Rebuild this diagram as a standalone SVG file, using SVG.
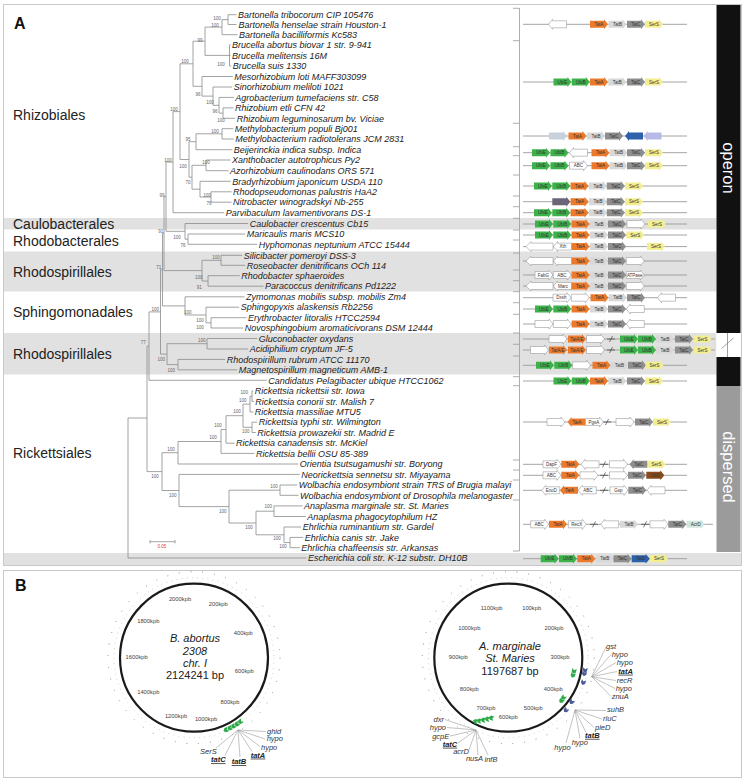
<svg xmlns="http://www.w3.org/2000/svg" xmlns:xlink="http://www.w3.org/1999/xlink" width="745" height="781" viewBox="0 0 745 781">
<style>
.sp{font:italic 9px "Liberation Sans",Arial,sans-serif;fill:#222}
.ord{font:14px "Liberation Sans",Arial,sans-serif;fill:#222}
.bs{font:4.5px "Liberation Sans",Arial,sans-serif;fill:#666;text-anchor:middle}
.tr{stroke:#8c8c8c;stroke-width:0.8;fill:none}
.gl{stroke:#9a9a9a;stroke-width:0.9;fill:none}
.gt{font:4.5px "Liberation Sans",Arial,sans-serif;fill:#333;text-anchor:middle}
.wh{fill:#fff;stroke:#9a9a9a;stroke-width:0.6}
.a{fill:#ec7a2c}.b{fill:#d8d8d8}.c{fill:#8e8e8e}.s{fill:#f3ee90}.g{fill:#3db24a}
.lb{fill:#c6d1dd}.bl{fill:#2d62aa}.lv{fill:#b9b9e8}.pu{fill:#6c6478}.br{fill:#8b4a1c}.tl{fill:#cfe6df}
.brk{stroke:#444;fill:none}
.band{fill:#e1e1e1}
.frame{fill:none;stroke:#c8c8c8;stroke-width:1}
.tk{font:5.8px "Liberation Sans",Arial,sans-serif;fill:#444;text-anchor:middle}
.gn{font:italic 7.5px "Liberation Sans",Arial,sans-serif;fill:#333}
.gnb{font:italic bold 7.5px "Liberation Sans",Arial,sans-serif;fill:#222;text-decoration:underline}
.fan{stroke:#9a9a9a;stroke-width:0.6;fill:none}
.ctr{font:italic 11px "Liberation Sans",Arial,sans-serif;fill:#222;text-anchor:middle}
.ctn{font:11px "Liberation Sans",Arial,sans-serif;fill:#222;text-anchor:middle}
.big{font:bold 16px "Liberation Sans",Arial,sans-serif;fill:#111}
.side{font:16.5px "Liberation Sans",Arial,sans-serif;fill:#fff;text-anchor:middle}
</style>
<defs>
<path id="R" d="M0,-3.5H14V-5L18,0L14,5V3.5H0Z"/>
<path id="L" d="M18,-3.5H4V-5L0,0L4,5V3.5H18Z"/>
<path id="LW" d="M27,-3.5H5V-5L0,0L5,5V3.5H27Z"/>
<path id="chev" d="M-2.5,-2.2H1L2.8,0L1,2.2H-2.5L-0.8,0Z"/>
</defs>
<rect width="745" height="781" fill="#fff"/>

<g id="bands">
<rect class="band" x="4" y="218" width="712.5" height="11.5"/>
<rect class="band" x="4" y="251.5" width="712.5" height="40"/>
<rect class="band" x="4" y="333" width="712.5" height="41.5"/>
<rect class="band" x="4" y="553" width="737" height="12"/>
</g>
<g id="frames">
<rect class="frame" x="3.5" y="4.5" width="738" height="561"/>
<rect class="frame" x="3.5" y="570.5" width="738" height="207"/>
</g>

<text class="big" x="14" y="28.5">A</text>
<text class="big" x="15" y="590.5">B</text>

<g id="orders">
<text class="ord" x="13" y="120">Rhizobiales</text>
<text class="ord" x="13" y="228.8">Caulobacterales</text>
<text class="ord" x="13" y="245.7">Rhodobacterales</text>
<text class="ord" x="13" y="276.7">Rhodospirillales</text>
<text class="ord" x="13" y="316.7">Sphingomonadales</text>
<text class="ord" x="13" y="359">Rhodospirillales</text>
<text class="ord" x="13" y="458.3">Rickettsiales</text>
</g>

<g id="sidebar">
<rect x="716.5" y="5" width="24" height="328" fill="#111"/>
<rect x="716.5" y="333" width="24" height="24" fill="#fff"/>
<line x1="727.5" y1="333" x2="727.5" y2="357" stroke="#888" stroke-width="0.8"/>
<line x1="721.5" y1="348.5" x2="733.5" y2="338" stroke="#888" stroke-width="0.8"/>
<rect x="716.5" y="357" width="24" height="29" fill="#111"/>
<rect x="716.5" y="386" width="24" height="166" fill="#9b9b9b"/>
<text class="side" transform="translate(723.3,168) rotate(90)">operon</text>
<text class="side" transform="translate(723.3,467) rotate(90)">dispersed</text>
</g>

<g id="tree" class="tr">
<path d="M236.5,14.7H228V24.5H236.5"/>
<path d="M228,19.6H222V34.7H237.5"/>
<path d="M230.5,44.8H229.5V66H231.2M229.5,55.3H230.5"/>
<path d="M222,27.1H205V55.4H229.5"/>
<path d="M233.5,107.9H223V118.3H235.2"/>
<path d="M233.8,97.4H219V113.1H223"/>
<path d="M232.2,87H213V105.3H219"/>
<path d="M232.8,76.5H202V96.1H213"/>
<path d="M205,41.2H193V86.3H202"/>
<path d="M233.2,128.7H222V139H233.8"/>
<path d="M222,133.8H196V149.7H232.2"/>
<path d="M230.5,160H206V170.7H228.5"/>
<path d="M231.5,191.8H211V202.2H231.5"/>
<path d="M230.8,181.3H200V197H211"/>
<path d="M206,165.3H192V189.2H200"/>
<path d="M196,141.7H189V177.2H192"/>
<path d="M193,63.8H180V159.5H189"/>
<path d="M180,111.6H173V212.7H224.2"/>
<path d="M245.2,234H188V244.3H257.2"/>
<path d="M248.2,223.5H185V239.2H188"/>
<path d="M173,162.1H166V231.3H185"/>
<path d="M242.2,255.3H221V265.3H245.2"/>
<path d="M239.8,275.7H208V286.2H263.5"/>
<path d="M221,260.3H202V281H208"/>
<path d="M166,196.7H164V270.6H202"/>
<path d="M246.5,317.7H211V328H243.2"/>
<path d="M239.2,307.2H206V322.8H211"/>
<path d="M244.5,296.8H185V315H206"/>
<path d="M164,233.6H162.5V305.9H185"/>
<path d="M257.2,338.5H207V349H248.2"/>
<path d="M225.2,359.4H178V369.8H237.2"/>
<path d="M207,343.7H167V364.6H178"/>
<path d="M162.5,269.7H160.5V354.1H167"/>
<path d="M160.5,311.9H149V380.3H266.8"/>
<path d="M149,346.1H147V471.6H162"/>
<path d="M147,418H128V558H306.5"/>
<path d="M253.2,391H252V401.5H253.8"/>
<path d="M252,396.2H250V412H253.2"/>
<path d="M257.2,422.2H252V432.5H255.8"/>
<path d="M250,404.1H243V427.3H252"/>
<path d="M243,415.7H226V443.2H234.5"/>
<path d="M226,429.5H221V453.4H254.5"/>
<path d="M221,441.5H178V464H298.2"/>
<path d="M297.2,485H280V495.3H298.5"/>
<path d="M302.5,505.9H274V516.5H305.8"/>
<path d="M303.2,537.4H290V547.7H299.8"/>
<path d="M301.2,527H284V542.6H290"/>
<path d="M274,511.2H256V534.8H284"/>
<path d="M280,490.2H229V523H256"/>
<path d="M299.8,474.4H179V506.6H229"/>
<path d="M178,452.7H162V490.5H179"/>
<path d="M150,541.7H175M150,540V543.4M175,540V543.4"/>
</g>
<text x="162" y="548" style="font:4.5px 'Liberation Sans',sans-serif;fill:#e04040;text-anchor:middle">0.05</text>

<g id="bootstrap">
<text class="bs" x="217" y="19.5">100</text><text class="bs" x="215" y="27">100</text>
<text class="bs" x="200" y="41.5">99</text><text class="bs" x="185" y="63">100</text>
<text class="bs" x="221" y="65.5">100</text><text class="bs" x="198" y="95.5">96</text>
<text class="bs" x="210" y="104">100</text><text class="bs" x="215" y="113">96</text>
<text class="bs" x="221" y="121.5">100</text><text class="bs" x="174" y="111">100</text>
<text class="bs" x="215" y="133">100</text><text class="bs" x="188" y="141">95</text>
<text class="bs" x="168" y="162">100</text><text class="bs" x="183" y="168">100</text>
<text class="bs" x="206" y="164">100</text><text class="bs" x="188" y="184">70</text>
<text class="bs" x="207" y="197">100</text><text class="bs" x="209" y="204.5">76</text>
<text class="bs" x="162" y="196.5">99</text><text class="bs" x="160.7" y="232.5">91</text>
<text class="bs" x="177" y="239">100</text><text class="bs" x="183" y="247">76</text>
<text class="bs" x="216" y="258.7">100</text><text class="bs" x="158.7" y="268.5">71</text>
<text class="bs" x="198.7" y="278.5">100</text><text class="bs" x="199.3" y="288.5">91</text>
<text class="bs" x="155.3" y="310.7">100</text><text class="bs" x="187.7" y="313.7">100</text>
<text class="bs" x="200" y="321.7">100</text><text class="bs" x="200" y="329.3">100</text>
<text class="bs" x="143.3" y="344">77</text><text class="bs" x="201.7" y="342.3">100</text>
<text class="bs" x="161.3" y="361">100</text><text class="bs" x="171.3" y="371.7">100</text>
<text class="bs" x="244.3" y="393.7">100</text><text class="bs" x="242.7" y="402">100</text>
<text class="bs" x="237" y="412.7">100</text><text class="bs" x="245.7" y="433.3">100</text>
<text class="bs" x="218" y="427">100</text><text class="bs" x="213" y="439">100</text>
<text class="bs" x="171" y="450.7">100</text><text class="bs" x="155" y="477.7">100</text>
<text class="bs" x="172.7" y="496.7">100</text><text class="bs" x="274" y="488">100</text>
<text class="bs" x="222.7" y="512.7">100</text><text class="bs" x="268.3" y="508.3">100</text>
<text class="bs" x="249" y="528.7">100</text><text class="bs" x="277" y="540.3">100</text>
<text class="bs" x="283" y="547.7">100</text>
</g>

<g id="species">
<text class="sp" x="238" y="17.9">Bartonella tribocorum CIP 105476</text>
<text class="sp" x="238.5" y="27.7">Bartonella henselae strain Houston-1</text>
<text class="sp" x="239" y="37.9">Bartonella bacilliformis Kc583</text>
<text class="sp" x="232" y="48">Brucella abortus biovar 1 str. 9-941</text>
<text class="sp" x="232" y="58.5">Brucella melitensis 16M</text>
<text class="sp" x="232.7" y="69.2">Brucella suis 1330</text>
<text class="sp" x="234.3" y="79.7">Mesorhizobium loti MAFF303099</text>
<text class="sp" x="233.7" y="90.2">Sinorhizobium meliloti 1021</text>
<text class="sp" x="235.3" y="100.6">Agrobacterium tumefaciens str. C58</text>
<text class="sp" x="235" y="111.1">Rhizobium etli CFN 42</text>
<text class="sp" x="236.7" y="121.5">Rhizobium leguminosarum bv. Viciae</text>
<text class="sp" x="234.7" y="131.9">Methylobacterium populi Bj001</text>
<text class="sp" x="235.3" y="142.2">Methylobacterium radiotolerans JCM 2831</text>
<text class="sp" x="233.7" y="152.9">Beijerinckia indica subsp. Indica</text>
<text class="sp" x="232" y="163.2">Xanthobacter autotrophicus Py2</text>
<text class="sp" x="230" y="173.9">Azorhizobium caulinodans ORS 571</text>
<text class="sp" x="232.3" y="184.5">Bradyrhizobium japonicum USDA 110</text>
<text class="sp" x="233" y="195">Rhodopseudomonas palustris HaA2</text>
<text class="sp" x="233" y="205.4">Nitrobacter winogradskyi Nb-255</text>
<text class="sp" x="225.7" y="215.9">Parvibaculum lavamentivorans DS-1</text>
<text class="sp" x="249.7" y="226.7">Caulobacter crescentus Cb15</text>
<text class="sp" x="246.7" y="237.2">Maricaulis maris MCS10</text>
<text class="sp" x="258.7" y="247.5">Hyphomonas neptunium ATCC 15444</text>
<text class="sp" x="243.7" y="258.5">Silicibacter pomeroyi DSS-3</text>
<text class="sp" x="246.7" y="268.5">Roseobacter denitrificans OCh 114</text>
<text class="sp" x="241.3" y="278.9">Rhodobacter sphaeroides</text>
<text class="sp" x="265" y="289.4">Paracoccus denitrificans Pd1222</text>
<text class="sp" x="246" y="300">Zymomonas mobilis subsp. mobilis Zm4</text>
<text class="sp" x="240.7" y="310.4">Sphingopyxis alaskensis Rb2256</text>
<text class="sp" x="248" y="320.9">Erythrobacter litoralis HTCC2594</text>
<text class="sp" x="244.7" y="331.2">Novosphingobium aromaticivorans DSM 12444</text>
<text class="sp" x="258.7" y="341.7">Gluconobacter oxydans</text>
<text class="sp" x="249.7" y="352.2">Acidiphilium cryptum JF-5</text>
<text class="sp" x="226.7" y="362.6">Rhodospirillum rubrum ATCC 11170</text>
<text class="sp" x="238.7" y="373">Magnetospirillum magneticum AMB-1</text>
<text class="sp" x="268.3" y="383.5">Candidatus Pelagibacter ubique HTCC1062</text>
<text class="sp" x="254.7" y="394.2">Rickettsia rickettsii str. Iowa</text>
<text class="sp" x="255.3" y="404.7">Rickettsia conorii str. Malish 7</text>
<text class="sp" x="254.7" y="415.2">Rickettsia massiliae MTU5</text>
<text class="sp" x="258.7" y="425.4">Rickettsia typhi str. Wilmington</text>
<text class="sp" x="257.3" y="435.7">Rickettsia prowazekii str. Madrid E</text>
<text class="sp" x="236" y="446.4">Rickettsia canadensis str. McKiel</text>
<text class="sp" x="256" y="456.6">Rickettsia bellii OSU 85-389</text>
<text class="sp" x="299.7" y="467.2">Orientia tsutsugamushi str. Boryong</text>
<text class="sp" x="301.3" y="477.6">Neorickettsia sennetsu str. Miyayama</text>
<text class="sp" x="298.7" y="488.2">Wolbachia endosymbiont strain TRS of Brugia malayi</text>
<text class="sp" x="300" y="498.5">Wolbachia endosymbiont of Drosophila melanogaster</text>
<text class="sp" x="304" y="509.1">Anaplasma marginale str. St. Maries</text>
<text class="sp" x="307.3" y="519.7">Anaplasma phagocytophilum HZ</text>
<text class="sp" x="302.7" y="530.2">Ehrlichia ruminantium str. Gardel</text>
<text class="sp" x="304.7" y="540.6">Ehrlichia canis str. Jake</text>
<text class="sp" x="301.3" y="550.9">Ehrlichia chaffeensis str. Arkansas</text>
<text class="sp" x="308" y="561.2">Escherichia coli str. K-12 substr. DH10B</text>
</g>

<g id="brackets" stroke="#9a9a9a" stroke-width="0.8" fill="none">
<path d="M519.5,8V551"/>
<path d="M513,8.3H519.5M513,40.7H519.5M513,123.3H519.5M513,146.7H519.5M513,155.7H519.5M513,175H519.5M513,196H519.5M513,206.7H519.5M513,218.3H519.5M513,230H519.5M513,240H519.5M513,253H519.5M513,270H519.5M513,280.7H519.5M513,291.7H519.5M513,302.7H519.5M513,314.3H519.5M513,333H519.5M513,344.3H519.5M513,356H519.5M513,376.7H519.5M513,385.7H519.5M513,460H519.5M513,470H519.5M513,480H519.5M513,500H519.5M513,551H519.5"/>
</g>

<g id="genes">
<g class="gl">
<path d="M523,24.3H687M523,82H687M523,136H687M523,152.7H687M523,165.7H687M523,186H687M523,201.7H687M523,212.7H687M523,224H687M523,235H687M523,246.6H687M523,261H687M523,275H687M523,286H687M523,297.7H687M523,309H687M523,324H687M523,339H715M523,350H715M523,365.3H687M523,381H687M523,422H687M523,464.3H687M523,475.3H687M523,490.3H687M523,524.3H713M523,558.7H687"/>
</g>
<g class="brk">
<path d="M607,339h8M609.5,342l3,-6M607,350h8M609.5,353l3,-6M603,422h8M605.5,425l3,-6M600,464.3h8M602.5,467.3l3,-6M600,475.3h8M602.5,478.3l3,-6M600,490.3h8M602.5,493.3l3,-6M590,524.3h8M592.5,527.3l3,-6M641,524.3h8M643.5,527.3l3,-6" stroke-width="0.7"/>
</g>
<use href="#L" x="548.5" y="24.3" class="wh"/>
<use href="#R" x="590" y="24.3" class="a"/><text class="gt" x="599" y="25.9">TatA</text>
<use href="#R" x="608.5" y="24.3" class="b"/><text class="gt" x="617.5" y="25.9">TatB</text>
<use href="#R" x="627" y="24.3" class="c"/><text class="gt" x="636" y="25.9">TatC</text>
<use href="#R" x="645" y="24.3" class="s"/><text class="gt" x="654" y="25.9">SerS</text>
<use href="#R" x="553.5" y="82" class="g"/><text class="gt" x="562.5" y="83.6">UbiE</text>
<use href="#R" x="571.8" y="82" class="g"/><text class="gt" x="580.8" y="83.6">UbiB</text>
<use href="#R" x="590" y="82" class="a"/><text class="gt" x="599" y="83.6">TatA</text>
<use href="#R" x="608.3" y="82" class="b"/><text class="gt" x="617.3" y="83.6">TatB</text>
<use href="#R" x="627" y="82" class="c"/><text class="gt" x="636" y="83.6">TatC</text>
<use href="#R" x="645" y="82" class="s"/><text class="gt" x="654" y="83.6">SerS</text>
<use href="#R" x="549" y="136" class="lb"/>
<use href="#R" x="568.5" y="136" class="a"/><text class="gt" x="577.5" y="137.6">TatA</text>
<use href="#R" x="587" y="136" class="b"/><text class="gt" x="596" y="137.6">TatB</text>
<use href="#R" x="605" y="136" class="c"/><text class="gt" x="614" y="137.6">TatC</text>
<use href="#L" x="625" y="136" class="bl"/>
<use href="#L" x="643.5" y="136" class="lv"/>
<use href="#R" x="532" y="152.7" class="g"/><text class="gt" x="541" y="154.3">UbiE</text>
<use href="#R" x="550.5" y="152.7" class="g"/><text class="gt" x="559.5" y="154.3">UbiB</text>
<use href="#L" x="569.5" y="152.7" class="wh"/>
<use href="#R" x="591.5" y="152.7" class="a"/><text class="gt" x="600.5" y="154.3">TatA</text>
<use href="#R" x="609.5" y="152.7" class="b"/><text class="gt" x="618.5" y="154.3">TatB</text>
<use href="#R" x="627" y="152.7" class="c"/><text class="gt" x="636" y="154.3">TatC</text>
<use href="#R" x="645" y="152.7" class="s"/><text class="gt" x="654" y="154.3">SerS</text>
<use href="#R" x="532" y="165.7" class="g"/><text class="gt" x="541" y="167.3">UbiE</text>
<use href="#R" x="550.5" y="165.7" class="g"/><text class="gt" x="559.5" y="167.3">UbiB</text>
<use href="#R" x="569.5" y="165.7" class="wh"/><text class="gt" x="578.5" y="167.3">ABC</text>
<use href="#R" x="591.5" y="165.7" class="a"/><text class="gt" x="600.5" y="167.3">TatA</text>
<use href="#R" x="609.5" y="165.7" class="b"/><text class="gt" x="618.5" y="167.3">TatB</text>
<use href="#R" x="627" y="165.7" class="c"/><text class="gt" x="636" y="167.3">TatC</text>
<use href="#R" x="645" y="165.7" class="s"/><text class="gt" x="654" y="167.3">SerS</text>
<use href="#R" x="534" y="186" class="g"/><text class="gt" x="543" y="187.6">UbiE</text>
<use href="#R" x="552.3" y="186" class="g"/><text class="gt" x="561.3" y="187.6">UbiB</text>
<use href="#R" x="570.6" y="186" class="a"/><text class="gt" x="579.6" y="187.6">TatA</text>
<use href="#R" x="589" y="186" class="b"/><text class="gt" x="598" y="187.6">TatB</text>
<use href="#R" x="606.8" y="186" class="c"/><text class="gt" x="615.8" y="187.6">TatC</text>
<use href="#R" x="625" y="186" class="s"/><text class="gt" x="634" y="187.6">SerS</text>
<use href="#R" x="552.3" y="201.7" class="pu"/>
<use href="#R" x="570.6" y="201.7" class="a"/><text class="gt" x="579.6" y="203.3">TatA</text>
<use href="#R" x="589" y="201.7" class="b"/><text class="gt" x="598" y="203.3">TatB</text>
<use href="#R" x="606.8" y="201.7" class="c"/><text class="gt" x="615.8" y="203.3">TatC</text>
<use href="#R" x="625" y="201.7" class="s"/><text class="gt" x="634" y="203.3">SerS</text>
<use href="#R" x="534" y="212.7" class="g"/><text class="gt" x="543" y="214.3">UbiE</text>
<use href="#R" x="552.3" y="212.7" class="g"/><text class="gt" x="561.3" y="214.3">UbiB</text>
<use href="#R" x="570.6" y="212.7" class="a"/><text class="gt" x="579.6" y="214.3">TatA</text>
<use href="#R" x="589" y="212.7" class="b"/><text class="gt" x="598" y="214.3">TatB</text>
<use href="#R" x="606.8" y="212.7" class="c"/><text class="gt" x="615.8" y="214.3">TatC</text>
<use href="#R" x="625" y="212.7" class="s"/><text class="gt" x="634" y="214.3">SerS</text>
<use href="#R" x="535" y="224" class="g"/><text class="gt" x="544" y="225.6">UbiE</text>
<use href="#R" x="553.3" y="224" class="g"/><text class="gt" x="562.3" y="225.6">UbiB</text>
<use href="#R" x="571.6" y="224" class="a"/><text class="gt" x="580.6" y="225.6">TatA</text>
<use href="#R" x="590" y="224" class="b"/><text class="gt" x="599" y="225.6">TatB</text>
<use href="#R" x="608" y="224" class="c"/><text class="gt" x="617" y="225.6">TatC</text>
<use href="#R" x="627" y="224" class="wh"/>
<use href="#R" x="648" y="224" class="s"/><text class="gt" x="657" y="225.6">SerS</text>
<use href="#R" x="535" y="235" class="g"/><text class="gt" x="544" y="236.6">UbiE</text>
<use href="#R" x="553.3" y="235" class="g"/><text class="gt" x="562.3" y="236.6">UbiB</text>
<use href="#R" x="571.6" y="235" class="a"/><text class="gt" x="580.6" y="236.6">TatA</text>
<use href="#R" x="590" y="235" class="b"/><text class="gt" x="599" y="236.6">TatB</text>
<use href="#R" x="608" y="235" class="c"/><text class="gt" x="617" y="236.6">TatC</text>
<use href="#R" x="626.3" y="235" class="s"/><text class="gt" x="635.3" y="236.6">SerS</text>
<use href="#LW" x="526" y="246.6" class="wh"/>
<use href="#L" x="553.5" y="246.6" class="wh"/><text class="gt" x="563" y="248.2">Xth</text>
<use href="#R" x="571.6" y="246.6" class="a"/><text class="gt" x="580.6" y="248.2">TatA</text>
<use href="#R" x="590" y="246.6" class="b"/><text class="gt" x="599" y="248.2">TatB</text>
<use href="#R" x="608" y="246.6" class="c"/><text class="gt" x="617" y="248.2">TatC</text>
<use href="#R" x="647" y="246.6" class="s"/><text class="gt" x="656" y="248.2">SerS</text>
<use href="#LW" x="526" y="261" class="wh"/>
<use href="#L" x="553.5" y="261" class="wh"/>
<use href="#R" x="571.6" y="261" class="a"/><text class="gt" x="580.6" y="262.6">TatA</text>
<use href="#R" x="590" y="261" class="b"/><text class="gt" x="599" y="262.6">TatB</text>
<use href="#R" x="608" y="261" class="c"/><text class="gt" x="617" y="262.6">TatC</text>
<use href="#R" x="626.3" y="261" class="wh"/>
<use href="#R" x="535" y="275" class="wh"/><text class="gt" x="543.5" y="276.6">FabG</text>
<use href="#R" x="553.3" y="275" class="wh"/><text class="gt" x="561.8" y="276.6">ABC</text>
<use href="#R" x="571.6" y="275" class="a"/><text class="gt" x="580.6" y="276.6">TatA</text>
<use href="#R" x="590" y="275" class="b"/><text class="gt" x="599" y="276.6">TatB</text>
<use href="#R" x="608" y="275" class="c"/><text class="gt" x="617" y="276.6">TatC</text>
<use href="#R" x="626.3" y="275" class="wh"/><text class="gt" x="634.8" y="276.6">ATPase</text>
<use href="#LW" x="526" y="286" class="wh"/>
<use href="#L" x="553.5" y="286" class="wh"/><text class="gt" x="563" y="287.6">Marc</text>
<use href="#R" x="571.6" y="286" class="a"/><text class="gt" x="580.6" y="287.6">TatA</text>
<use href="#R" x="590" y="286" class="b"/><text class="gt" x="599" y="287.6">TatB</text>
<use href="#R" x="608" y="286" class="c"/><text class="gt" x="617" y="287.6">TatC</text>
<use href="#R" x="626.3" y="286" class="wh"/>
<use href="#R" x="553" y="297.7" class="wh"/><text class="gt" x="561.5" y="299.3">Dxsh</text>
<use href="#R" x="571.3" y="297.7" class="wh"/>
<use href="#R" x="590.5" y="297.7" class="a"/><text class="gt" x="599.5" y="299.3">TatA</text>
<use href="#R" x="608.8" y="297.7" class="b"/><text class="gt" x="617.8" y="299.3">TatB</text>
<use href="#R" x="627" y="297.7" class="c"/><text class="gt" x="636" y="299.3">TatC</text>
<use href="#L" x="657.5" y="297.7" class="wh"/>
<use href="#R" x="535" y="309" class="g"/><text class="gt" x="544" y="310.6">UbiE</text>
<use href="#R" x="553.3" y="309" class="g"/><text class="gt" x="562.3" y="310.6">UbiB</text>
<use href="#R" x="571.6" y="309" class="a"/><text class="gt" x="580.6" y="310.6">TatA</text>
<use href="#R" x="590" y="309" class="b"/><text class="gt" x="599" y="310.6">TatB</text>
<use href="#R" x="608" y="309" class="c"/><text class="gt" x="617" y="310.6">TatC</text>
<use href="#L" x="626.3" y="309" class="wh"/>
<use href="#R" x="535" y="324" class="wh"/>
<use href="#R" x="553.3" y="324" class="wh"/>
<use href="#R" x="571.6" y="324" class="a"/><text class="gt" x="580.6" y="325.6">TatA</text>
<use href="#R" x="590" y="324" class="b"/><text class="gt" x="599" y="325.6">TatB</text>
<use href="#R" x="608" y="324" class="c"/><text class="gt" x="617" y="325.6">TatC</text>
<use href="#L" x="626.3" y="324" class="wh"/>
<use href="#R" x="549" y="339" class="wh"/>
<use href="#R" x="568" y="339" class="a"/><text class="gt" x="577" y="340.6">TatA/E</text>
<use href="#R" x="586.5" y="339" class="wh"/>
<use href="#R" x="620" y="339" class="g"/><text class="gt" x="629" y="340.6">UbiE</text>
<use href="#R" x="638" y="339" class="g"/><text class="gt" x="647" y="340.6">UbiB</text>
<use href="#R" x="656" y="339" class="b"/><text class="gt" x="665" y="340.6">TatB</text>
<use href="#R" x="675" y="339" class="c"/><text class="gt" x="684" y="340.6">TatC</text>
<use href="#R" x="693.5" y="339" class="s"/><text class="gt" x="702.5" y="340.6">SerS</text>
<use href="#R" x="530.5" y="350" class="wh"/>
<use href="#R" x="549" y="350" class="a"/><text class="gt" x="558" y="351.6">TatA/E</text>
<use href="#R" x="568" y="350" class="a"/><text class="gt" x="577" y="351.6">TatA/E</text>
<use href="#R" x="586.5" y="350" class="wh"/>
<use href="#R" x="620" y="350" class="g"/><text class="gt" x="629" y="351.6">UbiE</text>
<use href="#R" x="638" y="350" class="g"/><text class="gt" x="647" y="351.6">UbiB</text>
<use href="#R" x="656" y="350" class="b"/><text class="gt" x="665" y="351.6">TatB</text>
<use href="#R" x="675" y="350" class="c"/><text class="gt" x="684" y="351.6">TatC</text>
<use href="#R" x="693.5" y="350" class="s"/><text class="gt" x="702.5" y="351.6">SerS</text>
<use href="#R" x="536" y="365.3" class="g"/><text class="gt" x="545" y="366.9">UbiE</text>
<use href="#R" x="554.3" y="365.3" class="g"/><text class="gt" x="563.3" y="366.9">UbiB</text>
<use href="#R" x="572.6" y="365.3" class="wh"/>
<use href="#R" x="592.5" y="365.3" class="a"/><text class="gt" x="601.5" y="366.9">TatA</text>
<use href="#R" x="610.5" y="365.3" class="b"/><text class="gt" x="619.5" y="366.9">TatB</text>
<use href="#R" x="628" y="365.3" class="c"/><text class="gt" x="637" y="366.9">TatC</text>
<use href="#R" x="645.5" y="365.3" class="s"/><text class="gt" x="654.5" y="366.9">SerS</text>
<use href="#R" x="553.5" y="381" class="g"/><text class="gt" x="562.5" y="382.6">UbiE</text>
<use href="#R" x="571.8" y="381" class="g"/><text class="gt" x="580.8" y="382.6">UbiB</text>
<use href="#R" x="590" y="381" class="a"/><text class="gt" x="599" y="382.6">TatA</text>
<use href="#R" x="608.3" y="381" class="b"/><text class="gt" x="617.3" y="382.6">TatB</text>
<use href="#R" x="627" y="381" class="c"/><text class="gt" x="636" y="382.6">TatC</text>
<use href="#R" x="645" y="381" class="s"/><text class="gt" x="654" y="382.6">SerS</text>
<use href="#R" x="547" y="422" class="wh"/>
<use href="#L" x="567.5" y="422" class="a"/><text class="gt" x="577" y="423.6">TatA</text>
<use href="#R" x="585.5" y="422" class="wh"/><text class="gt" x="594" y="423.6">PgsA</text>
<use href="#R" x="616" y="422" class="wh"/>
<use href="#R" x="635" y="422" class="c"/><text class="gt" x="644" y="423.6">TatC</text>
<use href="#R" x="653" y="422" class="s"/><text class="gt" x="662" y="423.6">SerS</text>
<use href="#R" x="543" y="464.3" class="wh"/><text class="gt" x="551.5" y="465.9">DapF</text>
<use href="#R" x="561.3" y="464.3" class="a"/><text class="gt" x="570.3" y="465.9">TatA</text>
<use href="#L" x="581" y="464.3" class="wh"/>
<use href="#R" x="609.5" y="464.3" class="wh"/>
<use href="#L" x="629.5" y="464.3" class="c"/><text class="gt" x="639" y="465.9">TatC</text>
<use href="#R" x="647.5" y="464.3" class="s"/><text class="gt" x="656.5" y="465.9">SerS</text>
<use href="#R" x="543" y="475.3" class="wh"/><text class="gt" x="551.5" y="476.9">ABC</text>
<use href="#R" x="561.3" y="475.3" class="a"/><text class="gt" x="570.3" y="476.9">TatA</text>
<use href="#R" x="580" y="475.3" class="wh"/>
<use href="#R" x="609.5" y="475.3" class="wh"/>
<use href="#R" x="628" y="475.3" class="c"/><text class="gt" x="637" y="476.9">TatC</text>
<use href="#R" x="646.3" y="475.3" class="br"/><text class="gt" x="655.3" y="476.9">UbiD</text>
<use href="#L" x="541.7" y="490.3" class="wh"/><text class="gt" x="551.2" y="491.9">ExoD</text>
<use href="#L" x="560" y="490.3" class="a"/><text class="gt" x="569.5" y="491.9">TatA</text>
<use href="#L" x="578.3" y="490.3" class="wh"/><text class="gt" x="587.8" y="491.9">ABC</text>
<use href="#R" x="610" y="490.3" class="wh"/><text class="gt" x="618.5" y="491.9">Gsp</text>
<use href="#R" x="628.3" y="490.3" class="c"/><text class="gt" x="637.3" y="491.9">TatC</text>
<use href="#L" x="647" y="490.3" class="wh"/>
<use href="#R" x="530.7" y="524.3" class="wh"/><text class="gt" x="539.2" y="525.9">ABC</text>
<use href="#R" x="549" y="524.3" class="a"/><text class="gt" x="558" y="525.9">TatA</text>
<use href="#R" x="568.3" y="524.3" class="wh"/><text class="gt" x="576.8" y="525.9">RecX</text>
<use href="#L" x="600.7" y="524.3" class="wh"/>
<use href="#R" x="620" y="524.3" class="b"/><text class="gt" x="629" y="525.9">TatB</text>
<use href="#R" x="650" y="524.3" class="wh"/>
<use href="#R" x="668.3" y="524.3" class="c"/><text class="gt" x="677.3" y="525.9">TatC</text>
<use href="#R" x="686.7" y="524.3" class="tl"/><text class="gt" x="695.7" y="525.9">AcrD</text>
<use href="#R" x="540.7" y="558.7" class="g"/><text class="gt" x="549.7" y="560.3">UbiE</text>
<use href="#R" x="559" y="558.7" class="g"/><text class="gt" x="568" y="560.3">UbiB</text>
<use href="#R" x="577.3" y="558.7" class="a"/><text class="gt" x="586.3" y="560.3">TatA</text>
<use href="#R" x="595.7" y="558.7" class="b"/><text class="gt" x="604.7" y="560.3">TatB</text>
<use href="#R" x="613.5" y="558.7" class="c"/><text class="gt" x="622.5" y="560.3">TatC</text>
<use href="#R" x="631.7" y="558.7" class="bl"/><text class="gt" x="640.7" y="560.3">TatD</text>
<use href="#R" x="650" y="558.7" class="s"/><text class="gt" x="659" y="560.3">SerS</text>
</g>

<g id="circle-abortus">
<circle cx="194" cy="657.7" r="86" fill="none" stroke="#777" stroke-width="1" stroke-dasharray="0.8 11"/>
<circle cx="194" cy="657.7" r="80" fill="none" stroke="#aaa" stroke-width="0.8" stroke-dasharray="0.7 4.5"/>
<circle cx="194" cy="657.7" r="74" fill="none" stroke="#1a1a1a" stroke-width="2.2"/>
<text class="ctr" x="195" y="642.3">B. abortus</text>
<text class="ctr" x="195" y="654.7">2308</text>
<text class="ctr" x="195" y="667.3">chr. I</text>
<text class="ctn" x="195" y="679">2124241 bp</text>
<text class="tk" x="180" y="601">2000kpb</text>
<text class="tk" x="218.3" y="606">200kpb</text>
<text class="tk" x="148.3" y="623">1800kpb</text>
<text class="tk" x="243.3" y="634.7">400kpb</text>
<text class="tk" x="136.7" y="659.3">1600kpb</text>
<text class="tk" x="244.3" y="672.7">600kpb</text>
<text class="tk" x="148.3" y="694.3">1400kpb</text>
<text class="tk" x="230" y="704.3">800kpb</text>
<text class="tk" x="176" y="718">1200kpb</text>
<text class="tk" x="206" y="721.3">1000kpb</text>
<g fill="#2eaa4a">
<use href="#chev" transform="translate(240.4,721.6) rotate(144)"/>
<use href="#chev" transform="translate(237,724) rotate(147)"/>
<use href="#chev" transform="translate(233.5,726.1) rotate(150)"/>
<use href="#chev" transform="translate(229.9,728.1) rotate(153)"/>
<use href="#chev" transform="translate(226.1,729.9) rotate(156)"/>
</g>
<path class="fan" d="M238,730L266,731.5M238,730L265,739M238,730L260,746.5M238,730L252,751.5M238,730L240,757M238,730L225,755.5M238,730L216,748"/>
<text class="gn" x="267" y="733.8">ghid</text>
<text class="gn" x="266.7" y="741.4">hypo</text>
<text class="gn" x="261" y="749.6">hypo</text>
<text class="gnb" x="250.7" y="757.6">tatA</text>
<text class="gnb" x="231.7" y="764.2">tatB</text>
<text class="gnb" x="211" y="762.3">tatC</text>
<text class="gn" x="200" y="754.3">SerS</text>
</g>

<g id="circle-marginale">
<circle cx="508.3" cy="657.7" r="86" fill="none" stroke="#777" stroke-width="1" stroke-dasharray="0.8 11"/>
<circle cx="508.3" cy="657.7" r="80" fill="none" stroke="#aaa" stroke-width="0.8" stroke-dasharray="0.7 4.5"/>
<circle cx="508.3" cy="657.7" r="74" fill="none" stroke="#1a1a1a" stroke-width="2.2"/>
<text class="ctr" x="510" y="649.7">A. marginale</text>
<text class="ctr" x="510" y="662.3">St. Maries</text>
<text class="ctn" x="510" y="675">1197687 bp</text>
<text class="tk" x="491.7" y="609.7">1100kpb</text>
<text class="tk" x="531.7" y="609.7">100kpb</text>
<text class="tk" x="469.3" y="629.7">1000kpb</text>
<text class="tk" x="554" y="629.7">200kpb</text>
<text class="tk" x="458.3" y="659.3">900kpb</text>
<text class="tk" x="560" y="659.3">300kpb</text>
<text class="tk" x="469.3" y="691.3">800kpb</text>
<text class="tk" x="553.3" y="691.3">400kpb</text>
<text class="tk" x="486" y="710.3">700kpb</text>
<text class="tk" x="533.3" y="710.3">500kpb</text>
<text class="tk" x="508.3" y="719">600kpb</text>
<g fill="#2eaa4a">
<use href="#chev" transform="translate(574,671) rotate(103)"/>
<use href="#chev" transform="translate(573,675) rotate(105)"/>
<use href="#chev" transform="translate(563.5,697.5) rotate(127)"/>
<use href="#chev" transform="translate(561.5,700.5) rotate(129)"/>
<use href="#chev" transform="translate(491.5,718) rotate(197)"/>
<use href="#chev" transform="translate(487.5,719) rotate(199)"/>
<use href="#chev" transform="translate(483.5,720) rotate(201)"/>
<use href="#chev" transform="translate(479.5,720.8) rotate(203)"/>
<use href="#chev" transform="translate(475.7,721.5) rotate(205)"/>
</g>
<g fill="#4a5a9a">
<use href="#chev" transform="translate(585,670) rotate(100)"/>
<use href="#chev" transform="translate(584.3,673.5) rotate(100)"/>
<use href="#chev" transform="translate(583.3,682.3) rotate(108)"/>
<use href="#chev" transform="translate(571.7,701.7) rotate(125)"/>
<use href="#chev" transform="translate(566,710) rotate(132)"/>
</g>
<path class="fan" d="M591.7,676.7L606,647M591.7,676.7L611,654.5M591.7,676.7L616,662.5M591.7,676.7L617,671.5M591.7,676.7L616,680.5M591.7,676.7L615,688.5M591.7,676.7L611,696.5"/>
<text class="gn" x="606" y="649">gst</text>
<text class="gn" x="611.7" y="656.7">hypo</text>
<text class="gn" x="616.7" y="665">hypo</text>
<text class="gnb" x="618.3" y="673.7">tatA</text>
<text class="gn" x="616.7" y="683">recR</text>
<text class="gn" x="615.7" y="691.3">hypo</text>
<text class="gn" x="611.7" y="699.3">znuA</text>
<path class="fan" d="M575,710L606,710.5M575,710L602,719M575,710L594,727.5M575,710L586,732.5M575,710L580,738.5M575,710L566,743"/>
<text class="gn" x="607" y="712">suhB</text>
<text class="gn" x="603" y="721.3">rluC</text>
<text class="gn" x="595" y="730.2">pleD</text>
<text class="gnb" x="585" y="737.8">tatB</text>
<text class="gn" x="571.7" y="744.6">hypo</text>
<text class="gn" x="554.3" y="750">hypo</text>
<path class="fan" d="M476,730L445,719.5M476,730L447,727.5M476,730L450,736M476,730L458,743M476,730L469,750M476,730L478,755M476,730L488,755"/>
<text class="gn" x="444" y="721.7" text-anchor="end">dxr</text>
<text class="gn" x="446" y="730" text-anchor="end">hypo</text>
<text class="gn" x="449.3" y="739" text-anchor="end">gcpE</text>
<text class="gnb" x="457.3" y="746.7" text-anchor="end">tatC</text>
<text class="gn" x="469" y="754" text-anchor="end">acrD</text>
<text class="gn" x="483" y="760.7" text-anchor="end">nusA</text>
<text class="gn" x="484.5" y="761.7">infB</text>
</g>
</svg>
